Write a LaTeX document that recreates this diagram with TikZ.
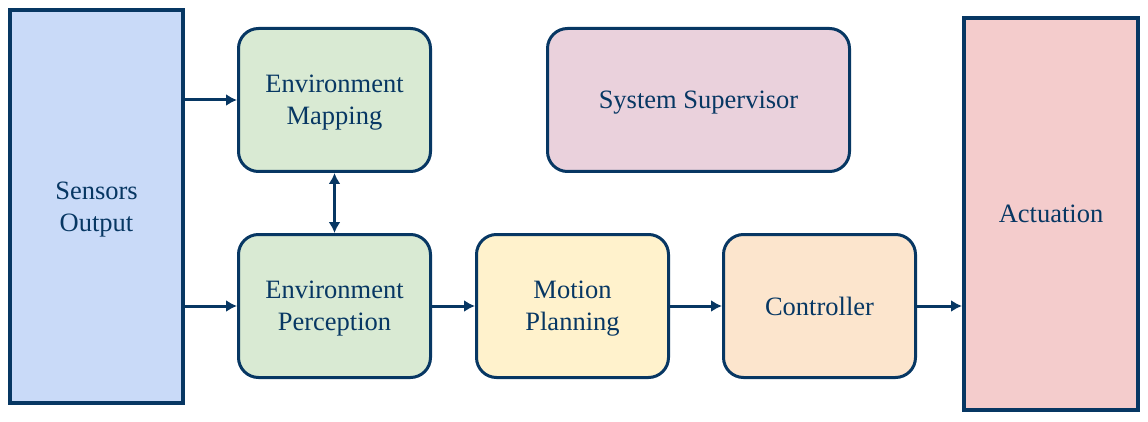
\documentclass[tikz,border=0pt]{standalone}
\usepackage{fontspec}
\setmainfont{Liberation Serif}
\usetikzlibrary{positioning,arrows.meta}
\definecolor{navy}{HTML}{073763}
\definecolor{sensorblue}{HTML}{C9DAF8}
\definecolor{envgreen}{HTML}{D9EAD3}
\definecolor{planyellow}{HTML}{FFF2CC}
\definecolor{ctrlorange}{HTML}{FCE5CD}
\definecolor{supervpink}{HTML}{EAD1DC}
\definecolor{actred}{HTML}{F4CCCC}
\tikzstyle{block} = [draw=navy, line width=3pt, rounded corners=20pt, minimum width=192pt, minimum height=143pt, align=center, text=navy, inner sep=0pt, text depth=0pt, font=\fontsize{26.5}{32}\selectfont]
\tikzstyle{side} = [draw=navy, line width=4pt, align=center, text=navy, inner sep=0pt, text depth=0pt, font=\fontsize{26.5}{32}\selectfont]
\tikzstyle{link} = [-{Latex[length=11pt,width=12pt]}, line width=3pt, draw=navy]

\begin{document}
\begin{tikzpicture}[x=1pt,y=1pt]
		\useasboundingbox (0,0) rectangle (1148,421);
		\node [side, fill=sensorblue, minimum width=173pt, minimum height=393pt] (sensors) at (96.5,214.5) {Sensors\\Output};
		\node [block, fill=envgreen] (mapping) at (334.5,321) {Environment\\Mapping};
		\node [block, fill=envgreen, below=60pt of mapping] (perception) {Environment\\Perception};
		\node [block, fill=planyellow, right=43pt of perception] (planning) {Motion\\Planning};
		\node [block, fill=ctrlorange, right=52pt of planning] (controller) {Controller};
		\node [block, fill=supervpink, minimum width=302pt] (supervisor) at (698.5,321) {System Supervisor};
		\node [side, fill=actred, minimum width=174pt, minimum height=392pt] (actuation) at (1051,207) {Actuation};
		
		
		\draw [link] (sensors.east |- mapping.west) -- (mapping.west);
		\draw [link] (sensors.east |- perception.west) -- (perception.west);
		\draw [link, {Latex[length=11pt,width=12pt]}-{Latex[length=11pt,width=12pt]}] (mapping) -- (perception);
		\draw [link] (perception) -- (planning);
		\draw [link] (planning) -- (controller);
		\draw [link] (controller.east) -- (controller.east -| actuation.west);
		
		
		\end{tikzpicture}
\end{document}
